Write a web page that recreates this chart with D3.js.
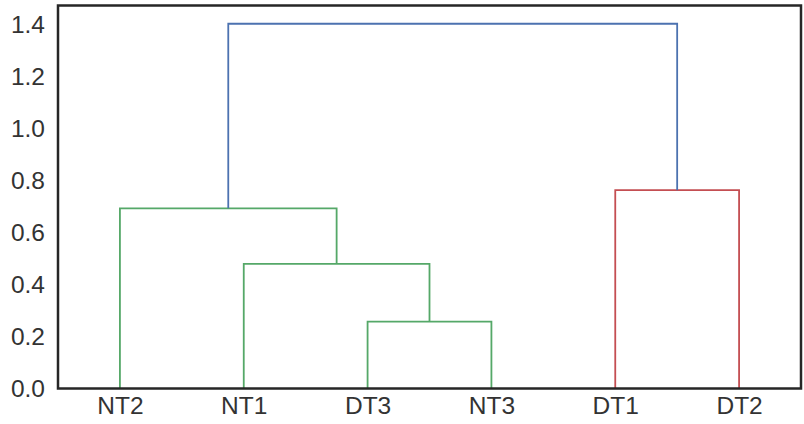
<!DOCTYPE html>
<html><head><meta charset="utf-8">
<script src="https://cdn.jsdelivr.net/npm/d3@7"></script>
<style>body{margin:0;background:#fff}svg{display:block}</style>
</head><body>
<svg id="c" width="804" height="424"></svg>
<script>
// leaves in dendrogram order
const leaves = ["NT2", "NT1", "DT3", "NT3", "DT1", "DT2"];
// merges: [left child, right child] (leaf indices 0..5, clusters 6..), height, color
const mergeLeft   = [2, 1, 0, 4, 8];
const mergeRight  = [3, 6, 7, 5, 9];
const mergeHeight = [0.257, 0.479, 0.693, 0.763, 1.403];
const mergeColor  = ["#55A868", "#55A868", "#55A868", "#C44E52", "#4C72B0"];
const yTicks = [0.0, 0.2, 0.4, 0.6, 0.8, 1.0, 1.2, 1.4];

const W = 804, H = 424;
const m = {left: 58, top: 5.5, right: 3, bottom: 35.5};
const svg = d3.select("#c");
const g = svg.append("g");

const x = d3.scaleLinear().domain([0, leaves.length * 10]).range([m.left, W - m.right]);
const yMax = d3.max(mergeHeight) * 1.05;
const y = d3.scaleLinear().domain([0, yMax]).range([H - m.bottom, m.top]);

// node positions
const nodeX = leaves.map((d, i) => 5 + i * 10);
const nodeY = leaves.map(() => 0);
mergeLeft.forEach((l, k) => {
  const r = mergeRight[k];
  nodeX.push((nodeX[l] + nodeX[r]) / 2);
  nodeY.push(mergeHeight[k]);
});

const line = d3.line().x(d => x(d[0])).y(d => y(d[1]));
mergeLeft.forEach((l, k) => {
  const r = mergeRight[k], h = mergeHeight[k];
  const pts = [[nodeX[l], nodeY[l]], [nodeX[l], h], [nodeX[r], h], [nodeX[r], nodeY[r]]];
  g.append("path").attr("d", line(pts)).attr("fill", "none")
    .attr("stroke", mergeColor[k]).attr("stroke-width", 1.8);
});

// axes
const font = "'Liberation Sans', Arial, sans-serif";
const ya = g.append("g").attr("transform", `translate(${m.left},0)`)
  .call(d3.axisLeft(y).tickValues(yTicks).tickFormat(d3.format(".1f")).tickSize(0).tickPadding(13));
ya.select(".domain").remove();
ya.selectAll("text").attr("font-family", font).attr("font-size", 24.5).attr("fill", "#333");

const xa = g.append("g").attr("transform", `translate(0,${H - m.bottom})`)
  .call(d3.axisBottom(x).tickValues(nodeX.slice(0, leaves.length)).tickFormat((d, i) => leaves[i]).tickSize(0).tickPadding(8));
xa.select(".domain").remove();
xa.selectAll("text").attr("font-family", font).attr("font-size", 24.5).attr("fill", "#333");

// frame
g.append("rect").attr("x", m.left).attr("y", m.top)
  .attr("width", W - m.left - m.right).attr("height", H - m.top - m.bottom)
  .attr("fill", "none").attr("stroke", "#262626").attr("stroke-width", 2.5);
</script>
</body></html>
